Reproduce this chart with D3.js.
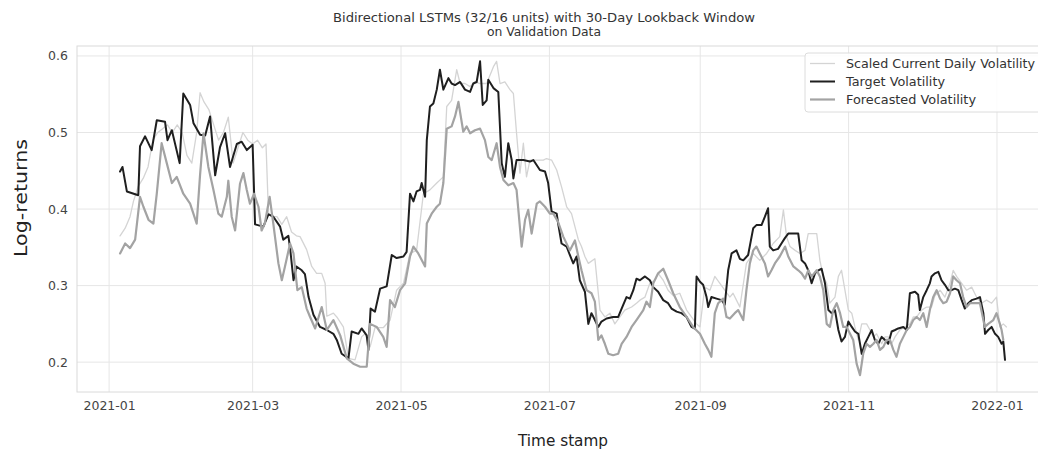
<!DOCTYPE html>
<html>
<head>
<meta charset="utf-8">
<script src="https://cdn.jsdelivr.net/npm/d3@7"></script>
<style>
  html, body { margin: 0; padding: 0; background: #fff; }
  svg { display: block; }
  text { font-family: "DejaVu Sans", sans-serif; }
</style>
</head>
<body>
<div id="chart"></div>
<script>
// Sample positions are days since 2021-01-01; values are volatility levels.
const seriesNames = ["Scaled Current Daily Volatility", "Target Volatility", "Forecasted Volatility"];

const currentDays = [4.5, 6.6, 8.6, 10, 12, 14, 16, 18, 20, 22, 24, 26, 28, 30, 32, 34, 36, 37.4, 39, 41, 43, 45, 47, 49, 51, 53, 55, 57, 59, 61, 63, 64.5, 65.5, 67, 69, 71, 73, 75, 77, 78.5, 81.2, 83.3, 85.3, 87.4, 88.8, 89.5, 92.2, 93.6, 96.3, 98.4, 101.1, 103.8, 105.2, 107.3, 109.3, 112.7, 115.5, 118.2, 121, 123.7, 126.4, 129.2, 131.9, 134.7, 137.4, 138.8, 140.8, 142.9, 144.3, 146.3, 148.4, 150.4, 152.5, 155.2, 158, 159.3, 160.7, 162.7, 164.8, 166.2, 167.5, 168.9, 170.3, 171.6, 173, 175.8, 178.5, 179.8, 181.9, 184, 186, 188.1, 190.1, 191.5, 192.9, 194.2, 195.6, 197, 199.7, 201.8, 203.8, 205.9, 207.9, 210, 212, 214.8, 216.8, 218.2, 220.3, 222.3, 224.4, 225.7, 227.8, 229.8, 231.9, 234.6, 237.4, 239.4, 241.5, 242.9, 244.9, 247, 249, 251.1, 253.1, 255.2, 256.5, 257.9, 259.3, 262, 264.8, 267.5, 270.3, 273, 275.7, 277.2, 278.5, 279.9, 282, 284, 286.1, 287.4, 289.5, 290.9, 292.2, 293.6, 295, 296.3, 298.4, 299.8, 301.1, 302.5, 303.9, 305.3, 306.6, 308, 309.4, 311.4, 312.8, 314.2, 315.5, 317.6, 319, 320.3, 321.7, 323.1, 325.1, 327.2, 329.2, 330.6, 332, 334, 336.1, 338.1, 339.5, 341.6, 343.6, 345.7, 347, 348.4, 350.5, 352.5, 354.6, 356.6, 358.6, 360.7, 362.8, 364.8, 366.2, 367.6, 368.9];
const currentVol = [0.365, 0.375, 0.39, 0.41, 0.43, 0.44, 0.455, 0.49, 0.5, 0.505, 0.51, 0.5, 0.51, 0.5, 0.47, 0.46, 0.5, 0.552, 0.54, 0.53, 0.51, 0.49, 0.5, 0.52, 0.46, 0.48, 0.5, 0.49, 0.485, 0.49, 0.48, 0.485, 0.395, 0.39, 0.39, 0.38, 0.39, 0.37, 0.365, 0.364, 0.347, 0.325, 0.316, 0.316, 0.303, 0.26, 0.264, 0.259, 0.246, 0.205, 0.203, 0.233, 0.237, 0.22, 0.245, 0.245, 0.255, 0.294, 0.303, 0.342, 0.346, 0.42, 0.425, 0.434, 0.442, 0.534, 0.542, 0.582, 0.564, 0.564, 0.56, 0.566, 0.564, 0.564, 0.586, 0.593, 0.564, 0.566, 0.556, 0.551, 0.499, 0.447, 0.486, 0.442, 0.464, 0.464, 0.464, 0.466, 0.464, 0.451, 0.429, 0.403, 0.394, 0.377, 0.36, 0.351, 0.338, 0.329, 0.335, 0.268, 0.259, 0.264, 0.25, 0.259, 0.268, 0.272, 0.277, 0.281, 0.285, 0.303, 0.307, 0.316, 0.307, 0.294, 0.287, 0.29, 0.268, 0.259, 0.25, 0.246, 0.298, 0.294, 0.312, 0.303, 0.294, 0.285, 0.29, 0.281, 0.272, 0.329, 0.342, 0.333, 0.342, 0.355, 0.364, 0.399, 0.364, 0.351, 0.346, 0.342, 0.346, 0.368, 0.368, 0.368, 0.333, 0.312, 0.303, 0.277, 0.285, 0.312, 0.32, 0.294, 0.268, 0.264, 0.246, 0.229, 0.25, 0.25, 0.242, 0.233, 0.237, 0.224, 0.233, 0.233, 0.224, 0.233, 0.242, 0.246, 0.25, 0.259, 0.259, 0.268, 0.272, 0.272, 0.287, 0.294, 0.285, 0.303, 0.32, 0.312, 0.303, 0.294, 0.298, 0.285, 0.277, 0.281, 0.277, 0.285, 0.246, 0.25, 0.246];

const targetDays = [4.5, 5.5, 7.3, 12, 12.7, 14.8, 17.5, 19.6, 23, 24, 25.8, 29, 30.5, 33.3, 34.7, 37.4, 39.5, 41.5, 43.6, 45.6, 47.7, 49.7, 52.5, 54.5, 56.6, 59, 60, 63.4, 65.5, 67.5, 70.3, 71.6, 73.7, 74.4, 75.8, 77, 79.2, 80.5, 82, 84, 86.7, 89.5, 92.2, 93.6, 95.6, 98.4, 99.7, 102.5, 103.8, 105.9, 106.6, 107.5, 109.3, 111.4, 114.1, 116.2, 118.2, 121, 122.3, 123.7, 125.1, 126.4, 127.8, 128.5, 129.9, 130.6, 131.9, 133.3, 134.7, 136, 137.4, 139.5, 140.8, 142.2, 144.3, 146.3, 148.4, 149.7, 151.1, 152.5, 153.6, 155.2, 155.9, 158, 160, 161.4, 162.7, 164.1, 165.5, 166.2, 167.5, 170.3, 173, 174.4, 177.1, 179.2, 180.5, 181.9, 184, 184.6, 186, 188.1, 189.4, 190.8, 192.2, 193.5, 195.6, 197, 198.3, 199.7, 201.1, 202.4, 204.5, 207.2, 209.3, 210.7, 212.7, 214.1, 215.5, 216.8, 218.2, 220.3, 222.3, 223.7, 225.7, 227.8, 229.8, 231.2, 233.3, 235.3, 237.4, 239.4, 240.8, 241.5, 242.9, 244.2, 245.6, 246.3, 247.6, 249.7, 251.8, 253.1, 254.5, 255.9, 257.9, 259.3, 260.7, 262.7, 264.8, 266.1, 268.2, 269.6, 270.9, 271.6, 273, 275, 276.4, 277.8, 279.2, 283.3, 284.7, 286.1, 287.4, 288.8, 290.2, 291.6, 292.9, 294.3, 295.7, 297, 298.4, 299.8, 301.1, 302.5, 303.9, 305.3, 306.6, 308, 309.4, 310.7, 312.1, 313.5, 314.8, 316.2, 317.6, 319, 320.3, 321.7, 323.1, 324.4, 326.5, 327.9, 329.2, 331.3, 332.6, 333.3, 334.7, 336.1, 337.4, 338.1, 339.5, 340.9, 342.2, 343.6, 345, 346.3, 347.7, 349.1, 350.5, 351.8, 353.2, 354.6, 356.6, 358, 359.4, 360.1, 361.4, 362.8, 364.2, 365.5, 366.9, 367.6, 368.3];
const targetVol = [0.449, 0.455, 0.423, 0.418, 0.482, 0.495, 0.477, 0.516, 0.514, 0.49, 0.503, 0.46, 0.551, 0.536, 0.512, 0.497, 0.496, 0.521, 0.444, 0.481, 0.499, 0.455, 0.485, 0.488, 0.477, 0.484, 0.38, 0.377, 0.393, 0.39, 0.377, 0.36, 0.365, 0.349, 0.307, 0.325, 0.32, 0.315, 0.285, 0.262, 0.246, 0.242, 0.237, 0.229, 0.211, 0.205, 0.24, 0.237, 0.244, 0.235, 0.216, 0.27, 0.266, 0.296, 0.299, 0.34, 0.336, 0.338, 0.344, 0.42, 0.41, 0.423, 0.425, 0.434, 0.416, 0.49, 0.534, 0.538, 0.556, 0.582, 0.556, 0.571, 0.564, 0.562, 0.566, 0.556, 0.553, 0.564, 0.566, 0.593, 0.536, 0.542, 0.569, 0.558, 0.553, 0.46, 0.442, 0.486, 0.464, 0.44, 0.464, 0.464, 0.462, 0.464, 0.451, 0.449, 0.434, 0.397, 0.394, 0.381, 0.355, 0.351, 0.34, 0.329, 0.338, 0.307, 0.292, 0.25, 0.264, 0.255, 0.246, 0.253, 0.257, 0.259, 0.259, 0.27, 0.285, 0.283, 0.294, 0.309, 0.307, 0.312, 0.307, 0.298, 0.292, 0.281, 0.277, 0.27, 0.266, 0.264, 0.259, 0.246, 0.244, 0.312, 0.305, 0.301, 0.285, 0.272, 0.285, 0.283, 0.281, 0.275, 0.32, 0.342, 0.346, 0.335, 0.333, 0.34, 0.375, 0.379, 0.379, 0.39, 0.401, 0.351, 0.346, 0.348, 0.355, 0.362, 0.368, 0.368, 0.333, 0.329, 0.32, 0.303, 0.316, 0.32, 0.322, 0.303, 0.268, 0.264, 0.268, 0.242, 0.227, 0.233, 0.253, 0.246, 0.24, 0.237, 0.211, 0.224, 0.233, 0.242, 0.229, 0.224, 0.233, 0.229, 0.224, 0.24, 0.242, 0.244, 0.246, 0.242, 0.29, 0.292, 0.288, 0.268, 0.285, 0.294, 0.303, 0.312, 0.316, 0.318, 0.307, 0.301, 0.294, 0.294, 0.296, 0.294, 0.281, 0.27, 0.277, 0.281, 0.283, 0.285, 0.264, 0.237, 0.242, 0.246, 0.237, 0.233, 0.224, 0.227, 0.203];

const forecastDays = [4.5, 6.6, 8.6, 10.7, 12.7, 14.1, 16.2, 18.2, 19.6, 21.6, 23.7, 25.8, 27.8, 30.5, 33.3, 36, 37.4, 38.8, 40.8, 42.9, 44.9, 46.3, 48.4, 49, 50.4, 51.8, 53.8, 55.2, 56.6, 57.9, 59.6, 61.4, 62.7, 64, 66, 67.5, 69.6, 71, 72.3, 74.4, 75.8, 77.4, 79.2, 81.2, 82.5, 84.7, 87.4, 89.5, 92.2, 95, 97.7, 100.4, 103.2, 105.9, 107.3, 110, 112.7, 114.1, 115.5, 117.5, 119.6, 121.7, 123.7, 125.1, 127.1, 129.9, 130.6, 132.6, 134.7, 136, 137.4, 138.8, 140.8, 142.2, 143.6, 145.6, 147, 148.4, 150.4, 152.5, 154.5, 155.9, 157.3, 159.3, 160.7, 162.1, 164.1, 166.2, 167.5, 169.6, 171, 172.3, 173.7, 175.8, 177.1, 179.2, 181.2, 182.6, 184.6, 186.7, 189.4, 191.5, 192.9, 194.2, 196.3, 198.3, 199.7, 201.1, 202.4, 203.8, 205.2, 207.2, 209.3, 210.7, 212.7, 214.8, 216.8, 219.6, 220.9, 222.3, 223.7, 225.7, 227.8, 229.8, 231.9, 234.6, 237.4, 240.1, 242.9, 244.9, 246.3, 247.6, 249, 250.4, 252.4, 253.8, 255.2, 257.2, 258.6, 260.7, 262, 263.4, 264.8, 266.1, 267.5, 269.6, 270.9, 272.3, 273.7, 275.7, 277.9, 279.2, 281.3, 283.3, 284.7, 286.1, 287.4, 288.8, 290.9, 292.2, 293.6, 295, 296.3, 297.7, 299.1, 300.5, 301.8, 303.2, 304.6, 305.9, 307.3, 308.7, 310, 311.4, 312.8, 314.2, 315.5, 316.9, 318.3, 319.6, 321, 322.4, 323.7, 325.1, 326.5, 327.9, 329.2, 330.6, 332, 333.3, 334.7, 336.1, 337.4, 338.8, 340.2, 341.6, 342.9, 344.3, 345.7, 347, 348.4, 349.8, 351.1, 352.5, 353.9, 355.9, 358, 360, 361.4, 363.5, 364.8, 366.2, 366.9, 367.6];
const forecastVol = [0.342, 0.355, 0.349, 0.36, 0.416, 0.403, 0.386, 0.381, 0.42, 0.486, 0.46, 0.434, 0.442, 0.42, 0.407, 0.381, 0.445, 0.499, 0.455, 0.425, 0.394, 0.39, 0.416, 0.437, 0.39, 0.372, 0.433, 0.447, 0.425, 0.407, 0.42, 0.403, 0.372, 0.381, 0.416, 0.381, 0.329, 0.307, 0.325, 0.355, 0.342, 0.294, 0.298, 0.27, 0.26, 0.244, 0.272, 0.242, 0.255, 0.235, 0.205, 0.198, 0.194, 0.194, 0.25, 0.246, 0.233, 0.22, 0.281, 0.272, 0.294, 0.303, 0.338, 0.351, 0.342, 0.325, 0.381, 0.394, 0.403, 0.407, 0.434, 0.505, 0.508, 0.521, 0.54, 0.501, 0.508, 0.499, 0.503, 0.505, 0.49, 0.468, 0.464, 0.486, 0.455, 0.438, 0.431, 0.434, 0.425, 0.351, 0.386, 0.399, 0.368, 0.407, 0.41, 0.403, 0.394, 0.394, 0.383, 0.364, 0.346, 0.359, 0.338, 0.32, 0.294, 0.29, 0.279, 0.229, 0.235, 0.224, 0.211, 0.209, 0.211, 0.224, 0.233, 0.246, 0.255, 0.268, 0.279, 0.272, 0.303, 0.316, 0.322, 0.307, 0.29, 0.272, 0.259, 0.246, 0.237, 0.224, 0.216, 0.207, 0.264, 0.277, 0.283, 0.259, 0.257, 0.264, 0.268, 0.255, 0.294, 0.329, 0.346, 0.351, 0.342, 0.329, 0.312, 0.32, 0.329, 0.338, 0.351, 0.338, 0.325, 0.32, 0.316, 0.309, 0.32, 0.312, 0.32, 0.312, 0.294, 0.25, 0.246, 0.268, 0.277, 0.264, 0.246, 0.246, 0.237, 0.229, 0.198, 0.183, 0.211, 0.224, 0.22, 0.224, 0.229, 0.216, 0.22, 0.229, 0.229, 0.216, 0.207, 0.224, 0.233, 0.242, 0.246, 0.255, 0.259, 0.255, 0.264, 0.246, 0.268, 0.285, 0.294, 0.283, 0.277, 0.279, 0.29, 0.312, 0.307, 0.303, 0.285, 0.272, 0.277, 0.277, 0.277, 0.246, 0.25, 0.255, 0.264, 0.25, 0.242, 0.229];

const xTickLabels = ["2021-01", "2021-03", "2021-05", "2021-07", "2021-09", "2021-11", "2022-01"];
const yTicks = [0.2, 0.3, 0.4, 0.5, 0.6];

const titleLines = ["Bidirectional LSTMs (32/16 units) with 30-Day Lookback Window", "on Validation Data"];
const xLabel = "Time stamp";
const yLabel = "Log-returns";

// ---- layout ----
const W = 1038, H = 450;
const plot = { left: 77, right: 1050, top: 46, bottom: 392 };
const colors = ["#d4d4d4", "#1f1f1f", "#a3a3a3"];
const widths = [1.3, 2, 2.2];

const svg = d3.select("#chart").append("svg")
  .attr("width", W).attr("height", H)
  .attr("viewBox", `0 0 ${W} ${H}`);
svg.append("rect").attr("width", W).attr("height", H).attr("fill", "#fff");

const day0 = Date.UTC(2021, 0, 1);
const toDate = d => new Date(day0 + d * 864e5);
const parseMonth = d3.utcParse("%Y-%m");

const x = d3.scaleUtc()
  .domain([toDate(-13.2), toDate(386.8)])
  .range([plot.left, plot.right]);
const y = d3.scaleLinear()
  .domain([0.161, 0.613])
  .range([plot.bottom, plot.top]);

const xTickDates = xTickLabels.map(parseMonth);

// grid
const grid = svg.append("g").attr("stroke", "#e6e6e6").attr("stroke-width", 1);
grid.selectAll("line.v").data(xTickDates).join("line")
  .attr("x1", d => x(d)).attr("x2", d => x(d))
  .attr("y1", plot.top).attr("y2", plot.bottom);
grid.selectAll("line.h").data(yTicks).join("line")
  .attr("x1", plot.left).attr("x2", plot.right)
  .attr("y1", d => y(d)).attr("y2", d => y(d));

// frame
svg.append("rect")
  .attr("x", plot.left).attr("y", plot.top)
  .attr("width", plot.right - plot.left).attr("height", plot.bottom - plot.top)
  .attr("fill", "none").attr("stroke", "#dadada").attr("stroke-width", 1);

// axes
const xAxis = d3.axisBottom(x)
  .tickValues(xTickDates)
  .tickFormat((d, i) => xTickLabels[i])
  .tickSize(0).tickPadding(9);
const yAxis = d3.axisLeft(y)
  .tickValues(yTicks)
  .tickFormat(d3.format(".1f"))
  .tickSize(0).tickPadding(9);

const gx = svg.append("g").attr("transform", `translate(0,${plot.bottom})`).call(xAxis);
const gy = svg.append("g").attr("transform", `translate(${plot.left},0)`).call(yAxis);
[gx, gy].forEach(g => {
  g.select(".domain").remove();
  g.selectAll("text")
    .attr("fill", "#444")
    .style("font-size", "12.5px")
    .style("font-family", "'DejaVu Sans', sans-serif");
});

// series
const series = [
  { days: currentDays, vals: currentVol },
  { days: targetDays, vals: targetVol },
  { days: forecastDays, vals: forecastVol }
];
const line = d3.line()
  .x(p => x(toDate(p[0])))
  .y(p => y(p[1]));

svg.append("clipPath").attr("id", "plot-clip")
  .append("rect")
  .attr("x", plot.left).attr("y", plot.top)
  .attr("width", plot.right - plot.left).attr("height", plot.bottom - plot.top);

const lines = svg.append("g").attr("clip-path", "url(#plot-clip)");
series.forEach((s, i) => {
  const pts = s.days.map((d, j) => [d, s.vals[j]]);
  lines.append("path")
    .datum(pts)
    .attr("d", line)
    .attr("fill", "none")
    .attr("stroke", colors[i])
    .attr("stroke-width", widths[i])
    .attr("stroke-linejoin", "round")
    .attr("stroke-linecap", "round");
});

// legend
const legend = svg.append("g").attr("transform", "translate(805,53)");
legend.append("rect")
  .attr("width", 260).attr("height", 59).attr("rx", 3)
  .attr("fill", "#fff").attr("fill-opacity", 0.85)
  .attr("stroke", "#dcdcdc").attr("stroke-width", 1);
const legendWidths = [189, 99, 130];
seriesNames.forEach((name, i) => {
  const cy = 10.5 + i * 18;
  legend.append("line")
    .attr("x1", 5).attr("x2", 30)
    .attr("y1", cy).attr("y2", cy)
    .attr("stroke", colors[i]).attr("stroke-width", widths[i]);
  legend.append("text")
    .attr("x", 41).attr("y", cy + 4.6)
    .attr("fill", "#333")
    .attr("textLength", legendWidths[i])
    .attr("lengthAdjust", "spacingAndGlyphs")
    .style("font-size", "12.6px")
    .text(name);
});

// title
const title = svg.append("g").attr("fill", "#333").style("font-size", "13px");
const titleWidths = [422, 114];
titleLines.forEach((t, i) => {
  title.append("text")
    .attr("x", 544).attr("y", 22 + i * 13.5)
    .attr("text-anchor", "middle")
    .attr("textLength", titleWidths[i])
    .attr("lengthAdjust", "spacingAndGlyphs")
    .text(t);
});

// axis labels
svg.append("text")
  .attr("x", 563).attr("y", 446)
  .attr("text-anchor", "middle")
  .attr("fill", "#222")
  .attr("textLength", 90).attr("lengthAdjust", "spacingAndGlyphs")
  .style("font-size", "15.5px")
  .text(xLabel);

svg.append("text")
  .attr("transform", "translate(27,198) rotate(-90)")
  .attr("text-anchor", "middle")
  .attr("fill", "#222")
  .attr("textLength", 118).attr("lengthAdjust", "spacingAndGlyphs")
  .style("font-size", "18px")
  .text(yLabel);
</script>
</body>
</html>
